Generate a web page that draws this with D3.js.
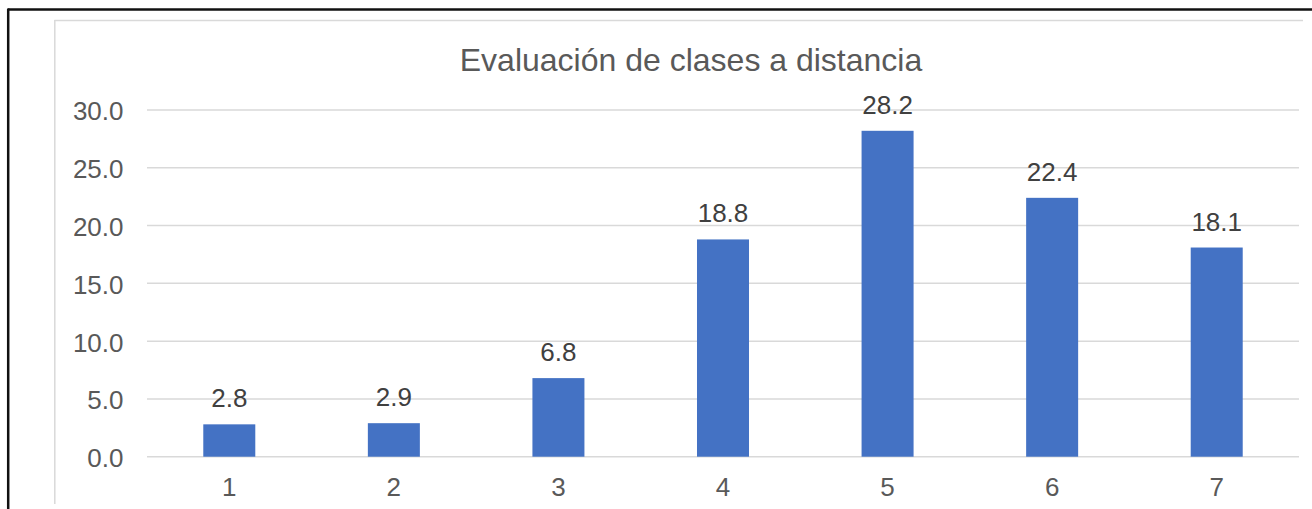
<!DOCTYPE html>
<html><head><meta charset="utf-8">
<script src="https://cdn.jsdelivr.net/npm/d3@7"></script>
<style>html,body{margin:0;padding:0;background:#fff;overflow:hidden}</style>
</head><body><svg id="c" width="1312" height="509"></svg>
<script>
const categories = ["1","2","3","4","5","6","7"];
const values = [2.8, 2.9, 6.8, 18.8, 28.2, 22.4, 18.1];
const yTicks = [0, 5, 10, 15, 20, 25, 30];
const title = "Evaluación de clases a distancia";

const svg = d3.select("#c");
const font = "'Liberation Sans', Arial, sans-serif";

// outer frame (black) and chart area frame (gray)
svg.append("line").attr("x1",8).attr("x2",1312).attr("y1",9.5).attr("y2",9.5).attr("stroke","#111").attr("stroke-width",2.5);
svg.append("line").attr("x1",8.2).attr("x2",8.2).attr("y1",8.5).attr("y2",509).attr("stroke","#111").attr("stroke-width",2.5);
svg.append("line").attr("x1",54.5).attr("x2",1303).attr("y1",20.5).attr("y2",20.5).attr("stroke","#d9d9d9").attr("stroke-width",1.5);
svg.append("line").attr("x1",54.8).attr("x2",54.8).attr("y1",20).attr("y2",504).attr("stroke","#d9d9d9").attr("stroke-width",1.5);

const x = d3.scaleBand().domain(categories).range([147, 1299]).paddingInner(0.684).paddingOuter(0.342);
const y = d3.scaleLinear().domain([0, 30]).range([456.7, 110]);

// gridlines
svg.append("g").selectAll("line").data(yTicks).join("line")
  .attr("x1",147).attr("x2",1299)
  .attr("y1",d=>y(d)).attr("y2",d=>y(d))
  .attr("stroke","#d9d9d9").attr("stroke-width",1.5);

// y axis labels
const yAxis = d3.axisLeft(y).tickValues(yTicks).tickFormat(d3.format(".1f")).tickSize(0).tickPadding(0);
const gy = svg.append("g").attr("transform","translate(123.5,0)").call(yAxis);
gy.select(".domain").remove();
gy.selectAll("text").attr("font-family",font).attr("font-size",26).attr("fill","#595959").attr("dy","0.38em");

// x axis labels
const xAxis = d3.axisBottom(x).tickSize(0).tickPadding(0);
const gx = svg.append("g").attr("transform","translate(0,496)").call(xAxis);
gx.select(".domain").remove();
gx.selectAll("text").attr("font-family",font).attr("font-size",26).attr("fill","#595959").attr("dy",0);

// bars
svg.append("g").selectAll("rect").data(values).join("rect")
  .attr("x",(d,i)=>x(categories[i]))
  .attr("width",x.bandwidth())
  .attr("y",d=>y(d))
  .attr("height",d=>y(0)-y(d))
  .attr("fill","#4472c4");

// data labels
svg.append("g").selectAll("text").data(values).join("text")
  .attr("x",(d,i)=>x(categories[i])+x.bandwidth()/2)
  .attr("y",d=>y(d)-17)
  .attr("text-anchor","middle")
  .attr("font-family",font).attr("font-size",26).attr("fill","#404040")
  .text(d=>d3.format(".1f")(d));

// title
svg.append("text").attr("x",691).attr("y",70.5).attr("text-anchor","middle")
  .attr("font-family",font).attr("font-size",32).attr("fill","#595959").text(title);
</script></body></html>
